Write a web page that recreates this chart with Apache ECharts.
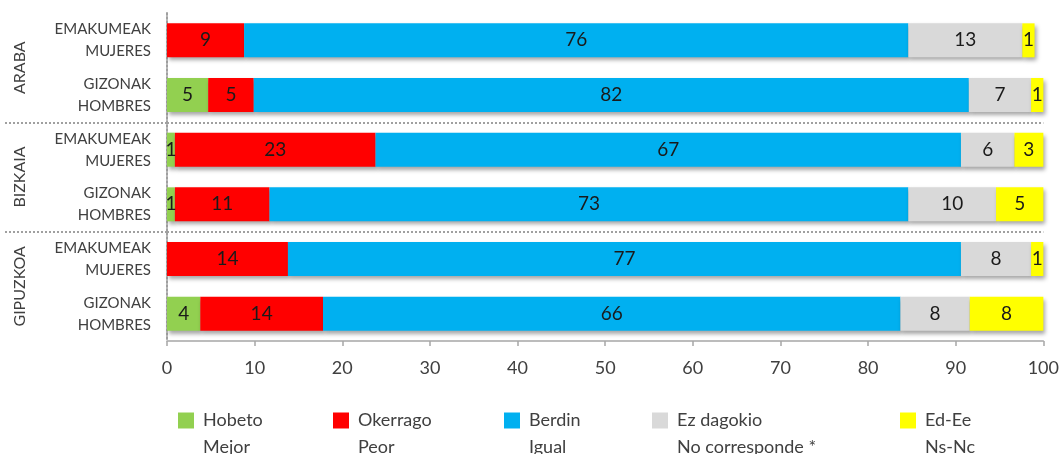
<!DOCTYPE html>
<html>
<head>
<meta charset="utf-8">
<script src="https://cdn.jsdelivr.net/npm/echarts@6/dist/echarts.min.js"></script>
<style>
  html, body { margin: 0; padding: 0; background: #fff; }
  #chart { width: 1062px; height: 454px; }
</style>
</head>
<body>
<div id="chart"></div>
<script>
// filas de arriba a abajo
var rows = ['EMAKUMEAK\nMUJERES', 'GIZONAK\nHOMBRES',
            'EMAKUMEAK\nMUJERES', 'GIZONAK\nHOMBRES',
            'EMAKUMEAK\nMUJERES', 'GIZONAK\nHOMBRES'];
var rowIds = ['araba_m', 'araba_h', 'bizkaia_m', 'bizkaia_h', 'gipuzkoa_m', 'gipuzkoa_h'];
var groups = ['ARABA', 'BIZKAIA', 'GIPUZKOA'];

var hobeto   = [0,    4.7,  0.9,  0.9,  0,    3.8];
var okerrago = [8.8,  5.2,  22.9, 10.8, 13.8, 14.0];
var berdin   = [75.8, 81.6, 66.8, 72.9, 76.8, 65.9];
var ezDagoki = [13.0, 7.1,  6.1,  10.0, 8.0,  7.9];
var edEe     = [1.4,  1.4,  3.3,  5.4,  1.4,  8.4];

var seriesNames = ['Hobeto', 'Okerrago', 'Berdin', 'Ez dagokio', 'Ed-Ee'];
var legendText  = ['Hobeto\nMejor', 'Okerrago\nPeor', 'Berdin\nIgual',
                   'Ez dagokio\nNo corresponde *', 'Ed-Ee\nNs-Nc'];
var colors = ['#92D050', '#FF0000', '#00B0F0', '#D9D9D9', '#FFFF00'];
var xTicks = [0, 10, 20, 30, 40, 50, 60, 70, 80, 90, 100];

var allData = [hobeto, okerrago, berdin, ezDagoki, edEe];
var legendLeft = [173, 328, 499, 647, 895];

var font = 'Lato, "Liberation Sans", sans-serif';
var dotted = { color: '#a0a0a0', type: 'dotted', width: 2 };

var chart = echarts.init(document.getElementById('chart'));

var legends = seriesNames.map(function (n, i) {
    return {
        data: [n],
        left: legendLeft[i],
        top: 375,
        orient: 'horizontal',
        selectedMode: false,
        icon: 'rect',
        itemWidth: 16,
        itemHeight: 16,
        formatter: function () { return ' \n' + legendText[i]; },
        textStyle: { fontFamily: font, fontSize: 18, color: '#404040', lineHeight: 27, padding: [0, 0, 0, 4] }
    };
});

var series = seriesNames.map(function (n, i) {
    return {
        name: n,
        type: 'bar',
        stack: 'total',
        barWidth: 34,
        data: allData[i],
        itemStyle: {
            color: colors[i],
            shadowColor: 'rgba(0,0,0,0.35)',
            shadowBlur: 4,
            shadowOffsetX: 2,
            shadowOffsetY: 3
        },
        label: {
            show: true,
            position: 'inside',
            color: '#1a1a1a',
            fontFamily: font,
            fontSize: 19,
            formatter: function (p) { return p.value > 0 ? String(Math.round(p.value)) : ''; }
        }
    };
});

chart.setOption({
    animation: false,
    backgroundColor: '#fff',
    grid: { left: 167, right: 18, top: 13, bottom: 113, containLabel: false },
    legend: legends,
    xAxis: {
        type: 'value',
        min: 0,
        max: 100,
        interval: 10,
        axisLine: { show: true, onZero: false, lineStyle: { color: '#a6a6a6', width: 1.5 } },
        axisTick: { show: true, length: 5, lineStyle: { color: '#a6a6a6', width: 1.5 } },
        splitLine: { show: false },
        axisLabel: {
            margin: 18,
            fontFamily: font, fontSize: 18, color: '#404040',
            formatter: function (v) { return xTicks.indexOf(v) >= 0 ? String(v) : ''; }
        }
    },
    yAxis: [{
        type: 'category',
        data: rowIds,
        inverse: true,
        axisLine: { show: true, lineStyle: dotted },
        axisTick: { show: false },
        axisLabel: {
            margin: 16,
            fontFamily: font, fontSize: 15, color: '#404040', lineHeight: 22,
            align: 'right',
            formatter: function (v, idx) { return rows[idx]; }
        }
    }, {
        // eje auxiliar: nombres de territorio y separadores punteados
        type: 'value',
        min: 0,
        max: rowIds.length,
        inverse: true,
        position: 'left',
        axisLine: { show: false },
        axisTick: { show: true, length: 162, customValues: [2, 4], lineStyle: dotted },
        splitLine: { show: true, lineStyle: dotted },
        axisLabel: {
            customValues: [1, 3, 5],
            margin: 139,
            rotate: 90,
            fontFamily: font, fontSize: 16, color: '#404040',
            formatter: function (v) { return groups[(v - 1) / 2]; }
        }
    }],
    series: series
});
</script>
</body>
</html>
